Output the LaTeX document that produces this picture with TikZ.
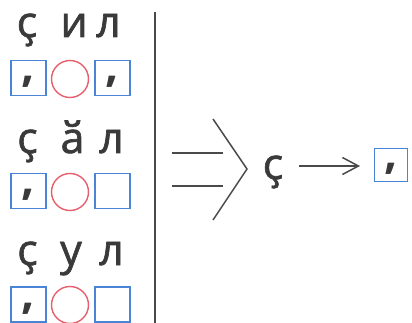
\documentclass[tikz,border=0pt]{standalone}
\usepackage{fontspec}
\setmainfont{Open Sans}
\newfontfamily\lettfont[FakeBold=1.5]{Open Sans}
\usetikzlibrary{arrows.meta}
\definecolor{boxblue}{HTML}{4A84D6}
\definecolor{ringred}{HTML}{E65F6C}
\definecolor{ink}{HTML}{3A3A3A}
\definecolor{rule}{HTML}{4A4A4A}
\tikzset{
  letter/.style={inner sep=0pt, anchor=base, text=ink, font=\lettfont\fontsize{43}{43}\selectfont},
  sqbox/.style={draw=boxblue, line width=1.4pt, minimum size=35pt, inner sep=0pt},
  ring/.style={draw=ringred, line width=1.4pt, circle, minimum size=37pt, inner sep=0pt},
  commamark/.style={inner sep=0pt, anchor=base, text=ink, font=\fontsize{46}{46}\selectfont\bfseries},
  stroke/.style={draw=rule, line width=1.5pt},
}
\begin{document}
\begin{tikzpicture}[x=1pt,y=-1pt]
\useasboundingbox (0,0) rectangle (412,323);
% row 1
\node[letter] (a1) at (27,37) {ҫ};
\node[letter] (a2) at (74,37) {и};
\node[letter] (a3) at (108.5,37) {л};
\node[sqbox] (b1) at (28.5,78) {};
\node[ring] (c1) at (70,79) {};
\node[sqbox] (d1) at (112.5,78) {};
\node[commamark] at ([yshift=-4pt]b1.center) {,};
\node[commamark] at ([yshift=-4pt]d1.center) {,};
% row 2
\node[letter] (a4) at (27.5,153) {ҫ};
\node[letter] (a5) at (72.5,153) {ӑ};
\node[letter] (a6) at (111.5,153) {л};
\node[sqbox] (b2) at (28.5,191) {};
\node[ring] (c2) at (70,192) {};
\node[sqbox] (d2) at (112.5,191) {};
\node[commamark] at ([yshift=-4pt]b2.center) {,};
% row 3
\node[letter] (a7) at (27.5,265) {ҫ};
\node[letter] (a8) at (71,265) {у};
\node[letter] (a9) at (111.5,265) {л};
\node[sqbox] (b3) at (28.5,304.5) {};
\node[ring] (c3) at (70,305) {};
\node[sqbox] (d3) at (112.5,304.5) {};
\node[commamark] at ([yshift=-4pt]b3.center) {,};
% divider
\coordinate (vt) at (155,12);
\coordinate (vb) at (155,323);
\draw[stroke, line width=1.8pt] (vt) -- (vb);
% implication sign
\coordinate (e1) at (172,153);
\coordinate (e2) at (223,153);
\coordinate (e3) at (172,186);
\coordinate (e4) at (223,186);
\coordinate (k1) at (213,119);
\coordinate (k2) at (247,169);
\coordinate (k3) at (213,220);
\draw[stroke] (e1) -- (e2);
\draw[stroke] (e3) -- (e4);
\draw[stroke] (k1) -- (k2) -- (k3);
% result
\node[letter] (r) at (273,179) {ҫ};
\node[sqbox, minimum size=33pt] (rb) at (391,165) {};
\node[commamark] at ([yshift=-4pt]rb.center) {,};
\coordinate (as) at (299,166);
\coordinate (ae) at (360,166);
\draw[stroke, -{Straight Barb[length=16pt,width=17pt,line width=1.5pt]}] (as) -- (ae);
\end{tikzpicture}
\end{document}
